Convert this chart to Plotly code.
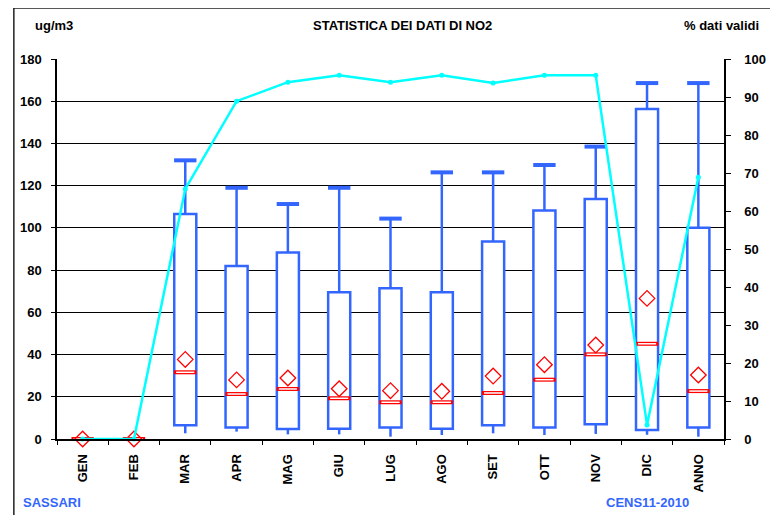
import plotly.graph_objects as go

# data
mesi = ['GEN', 'FEB', 'MAR', 'APR', 'MAG', 'GIU', 'LUG', 'AGO', 'SET', 'OTT', 'NOV', 'DIC', 'ANNO']
minimo = [None, None, 2.7, 3.5, 2.2, 2.2, 1.1, 1.9, 2.7, 1.9, 2.4, 2.0, 1.1]
q1 = [None, None, 6.5, 5.4, 4.7, 4.9, 5.5, 4.9, 6.5, 5.5, 7.0, 4.3, 5.4]
mediana = [0, 0, 31.6, 21.3, 23.7, 19.3, 17.4, 17.4, 21.8, 28.1, 40.1, 45.1, 22.7]
media = [0, 0, 37.7, 28.0, 28.9, 23.8, 22.9, 22.6, 29.8, 35.2, 44.5, 66.6, 30.3]
q3 = [None, None, 106.6, 82.0, 88.3, 69.5, 71.4, 69.5, 93.5, 108.2, 113.7, 156.3, 100.1]
massimo = [None, None, 132.0, 119.0, 111.3, 119.0, 104.4, 126.3, 126.3, 129.8, 138.5, 168.6, 168.6]
validi = [0, 0, 65.8, 88.9, 93.9, 95.7, 93.9, 95.7, 93.7, 95.7, 95.7, 3.7, 68.9]

blu = '#3366FF'
rosso = '#FF0000'
font = 'Liberation Sans, Arial, sans-serif'

fig = go.Figure()

# box body
alt = [None if a is None else a - b for a, b in zip(q3, q1)]
fig.add_trace(go.Bar(x=mesi, y=alt, base=q1, width=0.43,
                     marker=dict(color='white', line=dict(color=blu, width=2.5)),
                     hoverinfo='skip'))

# whiskers
wx, wy = [], []
for m, lo, a, b, hi in zip(mesi, minimo, q1, q3, massimo):
    if lo is None:
        continue
    wx += [m, m, None, m, m, None]
    wy += [lo, a, None, b, hi, None]
fig.add_trace(go.Scatter(x=wx, y=wy, mode='lines', line=dict(color=blu, width=2.5),
                         hoverinfo='skip'))
# upper caps
fig.add_trace(go.Scatter(x=mesi, y=massimo, mode='markers',
                         marker=dict(symbol='line-ew', size=16,
                                     line=dict(color=blu, width=4))))

# median (hollow red rectangle)
fig.add_trace(go.Scatter(x=mesi, y=mediana, mode='markers', cliponaxis=False,
                         marker=dict(symbol='line-ew', size=16,
                                     line=dict(color=rosso, width=4))))
fig.add_trace(go.Scatter(x=mesi, y=mediana, mode='markers', cliponaxis=False,
                         marker=dict(symbol='line-ew', size=13,
                                     line=dict(color='white', width=1.5))))
# mean
fig.add_trace(go.Scatter(x=mesi, y=media, mode='markers', cliponaxis=False,
                         marker=dict(symbol='diamond-open', size=12, color=rosso,
                                     line=dict(color=rosso, width=1.3))))

# % dati validi
fig.add_trace(go.Scatter(x=mesi, y=validi, yaxis='y2', mode='lines+markers',
                         cliponaxis=False,
                         line=dict(color='#00FFFF', width=2.5),
                         marker=dict(color='#00FFFF', size=5)))

tick_font = dict(family=font, size=13, color='black', weight='bold')

# page has an 8px body margin, so the figure is 770x507
fig.update_layout(
    width=770, height=507,
    margin=dict(l=45, r=45, t=51, b=76),
    paper_bgcolor='white', plot_bgcolor='white',
    showlegend=False,
    font=dict(family=font),
    xaxis=dict(type='category', tickangle=-90, tickfont=tick_font,
               showline=True, linecolor='black', linewidth=2,
               ticks='outside', ticklen=4, tickcolor='black', tickson='boundaries',
               ticklabelstandoff=8, showgrid=False, range=[-0.5, 12.5]),
    yaxis=dict(range=[0, 180], dtick=20, tickfont=tick_font,
               showline=True, linecolor='black', linewidth=1.5,
               ticks='outside', ticklen=4, tickcolor='black',
               showgrid=True, gridcolor='black', gridwidth=1, zeroline=False,
               ticklabelstandoff=7),
    yaxis2=dict(range=[0, 100], dtick=10, overlaying='y', side='right',
                tickfont=tick_font, showline=True, linecolor='black', linewidth=1.5,
                ticks='outside', ticklen=5, tickcolor='black',
                showgrid=False, zeroline=False, ticklabelstandoff=11),
)

tf = dict(family=font, size=13, color='black', weight='bold')
fig.add_annotation(text='ug/m3', x=-0.004, y=1.089, xref='paper', yref='paper',
                   showarrow=False, font=tf, xanchor='center', yanchor='middle')
fig.add_annotation(text='STATISTICA DEI DATI DI NO2', x=0.518, y=1.089, xref='paper', yref='paper',
                   showarrow=False, font=tf, xanchor='center', yanchor='middle')
fig.add_annotation(text='% dati validi', x=1.056, y=1.089, xref='paper', yref='paper',
                   showarrow=False, font=tf, xanchor='right', yanchor='middle')
bf = dict(family=font, size=13, color=blu, weight='bold')
fig.add_annotation(text='SASSARI', x=-0.054, y=-0.168, xref='paper', yref='paper',
                   showarrow=False, font=bf, xanchor='left', yanchor='middle')
fig.add_annotation(text='CENS11-2010', x=0.8206, y=-0.166, xref='paper', yref='paper',
                   showarrow=False, font=bf, xanchor='left', yanchor='middle')

# outer frame of the chart
fig.add_shape(type='rect', xref='paper', yref='paper',
              x0=-0.0647, x1=1.1, y0=-0.25, y1=1.134,
              line=dict(color='#222222', width=1.5), layer='below')

fig.write_html("out.html")
